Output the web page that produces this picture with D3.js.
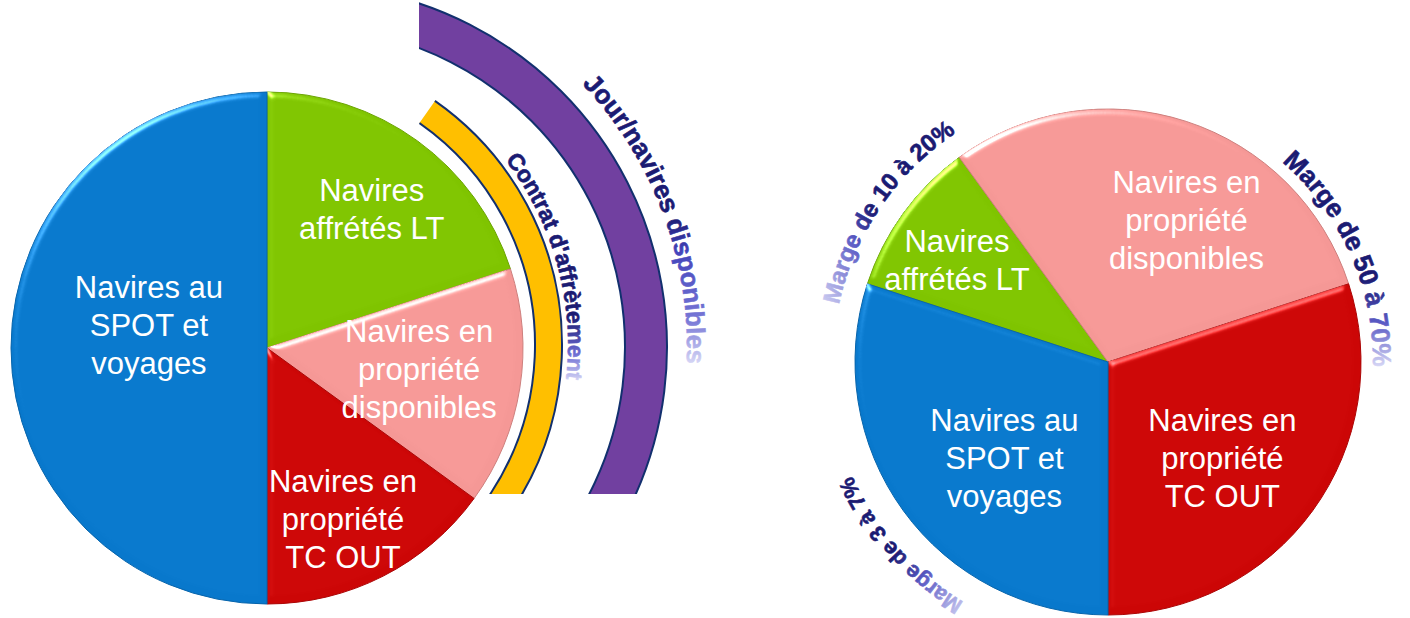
<!DOCTYPE html>
<html>
<head>
<meta charset="utf-8">
<script src="https://cdn.jsdelivr.net/npm/d3@7"></script>
<style>
  body { margin: 0; background: #fff; }
  svg { display: block; }
</style>
</head>
<body>
<svg id="chart" width="1410" height="618"></svg>
<script>
// slices, same order in both pies (clockwise)
var sliceLabels = [
    ["Navires", "affrétés LT"],
    ["Navires en", "propriété", "disponibles"],
    ["Navires en", "propriété", "TC OUT"],
    ["Navires au", "SPOT et", "voyages"]
];
var sliceColors = ["#7fc400", "#f59896", "#cc0606", "#0878cc"];

// left pie: share of the fleet (%)
var leftShares = [20, 15, 15, 50];
// right pie: share of the margin (%)
var rightShares = [10, 30, 30, 30];

// bands round the left pie
var bandNames = ["Contrat d'affrètement", "Jour/navires disponibles"];
var bandColors = ["#ffbf00", "#7140a0"];

// margin labels round the right pie
var marginLabels = ["Marge de 10 à 20%", "Marge de 50 à 70%", "Marge de 3 à 7%"];

var font = "'Liberation Sans', Arial, sans-serif";
var navy = "#1b1b72";
var rad = Math.PI / 180;

var svg = d3.select("#chart");
var defs = svg.append("defs");

// soft bevel on the slices
var bevel = defs.append("filter").attr("id", "bevel")
    .attr("color-interpolation-filters", "sRGB")
    .attr("x", "-5%").attr("y", "-5%").attr("width", "110%").attr("height", "110%");
bevel.append("feGaussianBlur").attr("in", "SourceAlpha").attr("stdDeviation", 3.5).attr("result", "blur");
bevel.append("feSpecularLighting").attr("in", "blur").attr("surfaceScale", 4)
    .attr("specularConstant", 0.7).attr("specularExponent", 30)
    .attr("lighting-color", "#ffffff").attr("result", "spec")
  .append("feDistantLight").attr("azimuth", 235).attr("elevation", 28);
bevel.append("feComposite").attr("in", "spec").attr("in2", "SourceAlpha")
    .attr("operator", "in").attr("result", "specIn");
bevel.append("feComposite").attr("in", "SourceGraphic").attr("in2", "specIn")
    .attr("operator", "arithmetic").attr("k1", 0).attr("k2", 1).attr("k3", 0.8).attr("k4", 0);

// text fades (dark -> light)
function fade(id, x1, y1, x2, y2, stops) {
    var lg = defs.append("linearGradient").attr("id", id)
        .attr("x1", x1).attr("y1", y1).attr("x2", x2).attr("y2", y2);
    stops.forEach(function(s) {
        lg.append("stop").attr("offset", s[0]).attr("stop-color", s[1]);
    });
}
fade("fadeContrat", 0, 0, 0, 1, [[0, navy], [0.72, navy], [0.88, "#6c6cd2"], [1, "#d8d8f6"]]);
fade("fadeJour", 0, 0, 0, 1, [[0, navy], [0.5, navy], [0.62, "#4444bb"], [0.85, "#7777d6"], [1, "#d8d8f6"]]);
fade("fadeM10", 0, 1, 1, 0, [[0, "#d8d8f6"], [0.3, "#5a5ac4"], [0.45, navy], [1, navy]]);
fade("fadeM50", 0, 0, 0, 1, [[0, navy], [0.6, navy], [0.8, "#5a5ac4"], [1, "#d8d8f6"]]);
fade("fadeM3", 1, 1, 0, 0, [[0, "#d8d8f6"], [0.3, "#5a5ac4"], [0.5, navy], [1, navy]]);

function drawPie(cx, cy, r, shares, start, labelPos) {
    var g = svg.append("g").attr("transform", "translate(" + cx + "," + cy + ")");
    var pie = d3.pie().sort(null).startAngle(start).endAngle(start + 2 * Math.PI);
    var arc = d3.arc().innerRadius(0).outerRadius(r);
    var slices = pie(shares);

    g.selectAll("path.slice")
        .data(slices)
        .enter().append("path")
            .attr("class", "slice")
            .attr("d", arc)
            .attr("fill", function(d, i) { return sliceColors[i]; })
            .attr("stroke", function(d, i) { return d3.color(sliceColors[i]).darker(0.5); })
            .attr("stroke-width", 1)
            .attr("filter", "url(#bevel)");

    var label = g.selectAll("text.lab")
        .data(slices)
        .enter().append("text")
            .attr("class", "lab")
            .attr("text-anchor", "middle")
            .attr("fill", "#fff")
            .style("font-family", font)
            .style("font-size", "31px")
            .attr("transform", function(d, i) {
                var p = labelPos[i], a = p[1] * rad;
                return "translate(" + (p[0] * r * Math.sin(a)) + "," + (-p[0] * r * Math.cos(a)) + ")";
            });
    label.each(function(d, i) {
        var lines = sliceLabels[i];
        d3.select(this).selectAll("tspan")
            .data(lines)
            .enter().append("tspan")
                .attr("x", 0)
                .attr("y", function(t, k) { return (k - (lines.length - 1) / 2) * 38; })
                .attr("dy", "0.35em")
                .text(function(t) { return t; });
    });
    return g;
}

// text along a clockwise circle, letters facing outwards
function curvedText(id, cx, cy, r, a0, a1, txt, size, fill) {
    var p = d3.path();
    p.arc(cx, cy, r, (a0 - 90) * rad, (a1 - 90) * rad, false);
    defs.append("path").attr("id", id).attr("d", p.toString());
    svg.append("text")
        .style("font-family", font)
        .style("font-size", size + "px")
        .style("font-weight", "bold")
        .attr("fill", fill)
        .attr("stroke", fill)
        .attr("stroke-width", 0.6)
        .append("textPath")
            .attr("href", "#" + id)
            .text(txt);
}

// ---- left pie with its two bands ----
var L = {cx: 267, cy: 348, r: 256};
drawPie(L.cx, L.cy, L.r, leftShares, 0,
    [[0.68, 37], [0.6, 98], [0.73, 156], [0.47, 281]]);

defs.append("clipPath").attr("id", "bandClip")
  .append("rect").attr("x", 419).attr("y", 0).attr("width", 400).attr("height", 494);

var bands = [
    {c: [264, 345], r0: 271, r1: 298, a0: 35, a1: 150},
    {c: [305, 347], r0: 320, r1: 362, a0: 10, a1: 150}
];
var bandG = svg.append("g").attr("clip-path", "url(#bandClip)");
bands.forEach(function(b, i) {
    var g = bandG.append("g").attr("transform", "translate(" + b.c[0] + "," + b.c[1] + ")");
    g.append("path")
        .attr("d", d3.arc().innerRadius(b.r0).outerRadius(b.r1).startAngle(b.a0 * rad).endAngle(b.a1 * rad)())
        .attr("fill", bandColors[i]);
    [b.r0, b.r1].forEach(function(rr) {
        var p = d3.path();
        p.arc(0, 0, rr, (b.a0 - 90) * rad, (b.a1 - 90) * rad, false);
        g.append("path").attr("d", p.toString())
            .attr("fill", "none").attr("stroke", "#12306e").attr("stroke-width", 2);
    });
});

curvedText("pathContrat", 264, 345, 304, 52.5, 115, bandNames[0], 23, "url(#fadeContrat)");
curvedText("pathJour", 305, 347, 382, 46.5, 115, bandNames[1], 26, "url(#fadeJour)");

// ---- right pie ----
var R = {cx: 1108, cy: 362, r: 253};
drawPie(R.cx, R.cy, R.r, rightShares, -72 * rad,
    [[0.72, -56], [0.64, 29], [0.59, 130], [0.56, 227]]);

curvedText("pathM10", R.cx, R.cy, 275, -78, -20, marginLabels[0], 24, "url(#fadeM10)");
curvedText("pathM50", R.cx, R.cy, 265, 41, 110, marginLabels[1], 26, "url(#fadeM50)");
curvedText("pathM3", R.cx, R.cy, 280, 211, 265, marginLabels[2], 22, "url(#fadeM3)");
</script>
</body>
</html>
